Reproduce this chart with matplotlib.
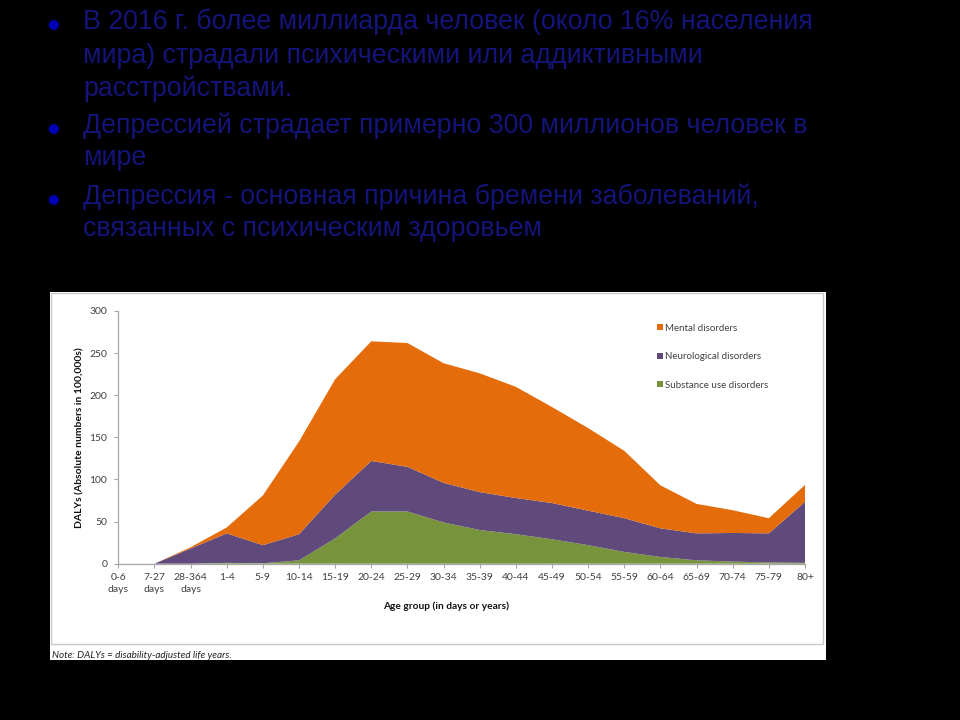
import matplotlib
matplotlib.use("Agg")
import matplotlib.pyplot as plt
from matplotlib.patches import Rectangle, Patch

# Slide text
bullets = [
    ["В 2016 г. более миллиарда человек (около 16% населения",
     "мира) страдали психическими или аддиктивными",
     "расстройствами."],
    ["Депрессией страдает примерно 300 миллионов человек в",
     "мире"],
    ["Депрессия - основная причина бремени заболеваний,",
     "связанных с психическим здоровьем"],
]
line_centers = [[22, 56, 89], [126, 158], [197, 229]]

# Chart data (DALYs, absolute numbers in 100,000s)
age_groups = ["0-6\ndays", "7-27\ndays", "28-364\ndays", "1-4", "5-9", "10-14",
              "15-19", "20-24", "25-29", "30-34", "35-39", "40-44", "45-49",
              "50-54", "55-59", "60-64", "65-69", "70-74", "75-79", "80+"]
substance = [0, 0, 0, 1, 0.5, 4, 30, 62, 62, 49, 40, 35, 29, 22, 14, 8, 4, 2.5, 1.5, 1]
neurological = [0, 0, 18, 35, 21.5, 31, 52, 60, 53, 47, 45, 43, 43, 41, 40, 34, 32, 34, 34.5, 72.5]
mental = [0, 0, 1.5, 7, 59, 110, 137, 142, 147, 142, 141, 132, 114, 98, 80, 51, 35, 27, 18, 20]
series_names = ["Mental disorders", "Neurological disorders", "Substance use disorders"]

c_mental = "#E46C0A"
c_neuro = "#604A7B"
c_sub = "#77933C"
axis_grey = "#A6A6A6"
text_grey = "#404040"

W, H = 960, 720
fig = plt.figure(figsize=(9.6, 7.2), dpi=100, facecolor="black")


def fx(px):
    return px / W


def fy(py):
    return 1 - py / H


# bullet list
for lines, ys in zip(bullets, line_centers):
    fig.text(fx(53), fy(ys[0] + 2), "\u25CF", color="#0000B4", fontsize=9.5,
             family="DejaVu Sans", ha="center", va="center")
    for ln, yy in zip(lines, ys):
        fig.text(fx(83), fy(yy), ln, color="#14147A", fontsize=19.3,
                 family="Liberation Sans", ha="left", va="center")

# white chart image
fig.patches.append(Rectangle((fx(50), fy(660)), fx(826) - fx(50), fy(292) - fy(660),
                             transform=fig.transFigure, facecolor="white",
                             edgecolor="none", zorder=-2))
fig.patches.append(Rectangle((fx(51), fy(644)), fx(823) - fx(51), fy(293) - fy(644),
                             transform=fig.transFigure, facecolor="none",
                             edgecolor="#C8C8C8", linewidth=1.0, zorder=-1))
fig.text(fx(52), fy(655), "Note: DALYs = disability-adjusted life years.",
         fontsize=7.1, style="italic", family="Lato", color="#222222",
         ha="left", va="center")

# plot area
x0, x1 = 118.3, 805
y0, y1 = 563.7, 311
ax = fig.add_axes([fx(x0), fy(y0), fx(x1) - fx(x0), fy(y1) - fy(y0)])
ax.set_zorder(2)
ax.set_facecolor("none")

x = list(range(len(age_groups)))
ax.stackplot(x, substance, neurological, mental,
             colors=[c_sub, c_neuro, c_mental], linewidth=0)

ax.set_xlim(0, len(age_groups) - 1)
ax.set_ylim(0, 300)
ax.set_yticks(range(0, 301, 50))
ax.set_xticks(x)
ax.set_xticklabels(age_groups)

for s in ["top", "right"]:
    ax.spines[s].set_visible(False)
for s in ["left", "bottom"]:
    ax.spines[s].set_color(axis_grey)
    ax.spines[s].set_linewidth(0.9)

ax.tick_params(axis="both", direction="out", length=3, width=0.8, color=axis_grey,
               labelsize=7.5, labelcolor=text_grey)
ax.tick_params(axis="x", pad=4)
ax.tick_params(axis="y", pad=5)
for lbl in ax.get_xticklabels() + ax.get_yticklabels():
    lbl.set_family("Lato")
    lbl.set_linespacing(1.3)

ax.text(0.478, -0.168, "Age group (in days or years)", transform=ax.transAxes,
        ha="center", va="center", fontsize=7.3, fontweight="bold",
        family="Lato", color="#111111")
ax.text(-0.056, 0.5, "DALYs (Absolute numbers in 100,000s)", transform=ax.transAxes,
        ha="center", va="center", rotation=90, fontsize=7.5, fontweight="bold",
        family="Lato", color="#111111")

handles = [Patch(facecolor=c, edgecolor="none") for c in (c_mental, c_neuro, c_sub)]
leg = fig.legend(handles, series_names, loc="upper left",
                 bbox_to_anchor=(fx(648), fy(315)), frameon=False,
                 handlelength=0.6, handleheight=0.6, handletextpad=0.25,
                 labelspacing=2.0, prop={"family": "Lato", "size": 7})
for t in leg.get_texts():
    t.set_color(text_grey)

fig.savefig("out.png", dpi=100, facecolor="black")
